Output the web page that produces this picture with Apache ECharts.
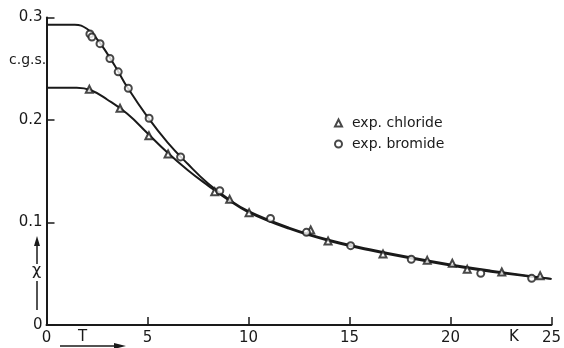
<!DOCTYPE html>
<html>
<head>
<meta charset="utf-8">
<script src="https://cdn.jsdelivr.net/npm/echarts@6/dist/echarts.min.js"></script>
<style>
  html, body { margin: 0; padding: 0; background: #fff; }
  #chart { width: 564px; height: 348px; }
</style>
</head>
<body>
<div id="chart"></div>
<script>
// measured points (T in K, chi in c.g.s.)
const chlorideT = [2.12, 3.64, 5.07, 6.02, 8.33, 9.07, 10.03, 13.08, 13.94, 16.66, 18.85, 20.09, 20.83, 22.54, 24.44]
const chlorideChi = [0.230, 0.2114, 0.1847, 0.1668, 0.130, 0.1226, 0.1096, 0.0927, 0.082, 0.0693, 0.0631, 0.0602, 0.0543, 0.0517, 0.0481]
const bromideT = [2.15, 2.25, 2.65, 3.14, 3.55, 4.05, 5.08, 6.64, 8.58, 11.09, 12.87, 15.06, 18.06, 21.5, 24.02]
const bromideChi = [0.284, 0.281, 0.2745, 0.260, 0.247, 0.231, 0.2017, 0.164, 0.131, 0.104, 0.0904, 0.0774, 0.0641, 0.0504, 0.0455]

// fitted curves as drawn in the figure
const chlorideCurveT = [0, 1.5, 2.2, 3, 4, 5, 6, 7, 8, 9, 10, 12, 14, 16, 18, 20, 22, 25]
const chlorideCurveChi = [0.2315, 0.2315, 0.229, 0.220, 0.206, 0.187, 0.168, 0.151, 0.136, 0.122, 0.110, 0.094, 0.082, 0.073, 0.065, 0.058, 0.052, 0.045]
const bromideCurveT = [0, 1.4, 2.0, 2.5, 3, 3.5, 4, 5, 6, 7, 8, 9, 10, 12, 14, 16, 18, 20, 22, 25]
const bromideCurveChi = [0.293, 0.293, 0.289, 0.279, 0.265, 0.249, 0.232, 0.203, 0.178, 0.157, 0.138, 0.123, 0.111, 0.095, 0.083, 0.074, 0.066, 0.059, 0.053, 0.045]

const xTicks = [0, 5, 10, 15, 20, 25]
const yTicks = [0, 0.1, 0.2, 0.3]

const zip = (a, b) => a.map((v, i) => [v, b[i]])
const ink = '#1a1a1a'
const font = 'DejaVu Sans'

const chart = echarts.init(document.getElementById('chart'))

chart.setOption({
  backgroundColor: '#fff',
  animation: false,
  grid: { left: 46.5, right: 12, top: 17.5, bottom: 23 },
  xAxis: {
    type: 'value',
    min: xTicks[0],
    max: xTicks[xTicks.length - 1],
    interval: 5,
    axisLine: { lineStyle: { color: ink, width: 2 } },
    axisTick: { inside: true, length: 8, lineStyle: { color: ink, width: 1.5 } },
    axisLabel: { color: ink, fontFamily: font, fontSize: 15, margin: 6 },
    splitLine: { show: false },
  },
  yAxis: {
    type: 'value',
    min: yTicks[0],
    max: yTicks[yTicks.length - 1],
    interval: 0.1,
    axisLine: { lineStyle: { color: ink, width: 2 } },
    axisTick: { inside: true, length: 8, lineStyle: { color: ink, width: 1.5 } },
    axisLabel: { color: ink, fontFamily: font, fontSize: 15, margin: 4 },
    splitLine: { show: false },
  },
  legend: {
    orient: 'vertical',
    left: 329,
    top: 111,
    itemWidth: 7,
    itemHeight: 7,
    itemGap: 7,
    textStyle: { color: ink, fontFamily: font, fontSize: 14, padding: [0, 0, 0, 5] },
    data: [
      { name: 'exp. chloride', icon: 'emptyTriangle' },
      { name: 'exp. bromide', icon: 'emptyCircle' },
    ],
  },
  series: [
    {
      name: 'chloride fit',
      type: 'line',
      data: zip(chlorideCurveT, chlorideCurveChi),
      smooth: 0.45,
      showSymbol: false,
      lineStyle: { color: ink, width: 2 },
      z: 2,
    },
    {
      name: 'bromide fit',
      type: 'line',
      data: zip(bromideCurveT, bromideCurveChi),
      smooth: 0.45,
      showSymbol: false,
      lineStyle: { color: ink, width: 2 },
      z: 2,
    },
    {
      name: 'exp. chloride',
      type: 'scatter',
      data: zip(chlorideT, chlorideChi),
      symbol: 'emptyTriangle',
      symbolSize: 7,
      itemStyle: { color: ink, borderColor: ink, borderWidth: 1.5 },
      z: 3,
    },
    {
      name: 'exp. bromide',
      type: 'scatter',
      data: zip(bromideT, bromideChi),
      symbol: 'emptyCircle',
      symbolSize: 7,
      itemStyle: { color: ink, borderColor: ink, borderWidth: 1.5 },
      z: 3,
    },
  ],
  graphic: [
    { type: 'text', left: 9, top: 53, style: { text: 'c.g.s.', fill: ink, font: '14px ' + font } },
    // chi arrow
    { type: 'line', shape: { x1: 37, y1: 310, x2: 37, y2: 242 }, style: { stroke: ink, lineWidth: 1.5 } },
    { type: 'polygon', shape: { points: [[37, 236], [34, 246], [40, 246]] }, style: { fill: ink } },
    { type: 'rect', shape: { x: 31, y: 264, width: 12, height: 17 }, style: { fill: '#fff' } },
    { type: 'text', left: 32, top: 263, style: { text: 'χ', fill: ink, font: '16px ' + font } },
    // T arrow
    { type: 'text', left: 78, top: 330, style: { text: 'T', fill: ink, font: '15px ' + font } },
    { type: 'line', shape: { x1: 60, y1: 346, x2: 118, y2: 346 }, style: { stroke: ink, lineWidth: 1.5 } },
    { type: 'polygon', shape: { points: [[126, 346], [114, 343], [114, 349]] }, style: { fill: ink } },
    { type: 'text', left: 509, top: 330, style: { text: 'K', fill: ink, font: '15px ' + font } },
  ],
})
</script>
</body>
</html>
